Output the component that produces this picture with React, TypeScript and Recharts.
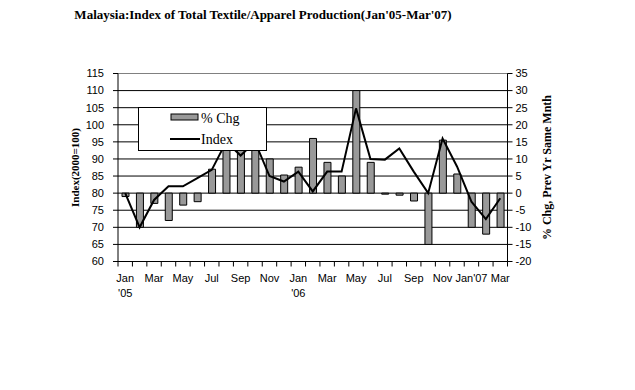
import {
  ComposedChart,
  Bar,
  Line,
  XAxis,
  YAxis,
  CartesianGrid,
  ReferenceLine,
  Legend,
} from "recharts";

const categories = [
  "Jan'05", "Feb'05", "Mar'05", "Apr'05", "May'05", "Jun'05", "Jul'05", "Aug'05", "Sep'05",
  "Oct'05", "Nov'05", "Dec'05", "Jan'06", "Feb'06", "Mar'06", "Apr'06", "May'06", "Jun'06",
  "Jul'06", "Aug'06", "Sep'06", "Oct'06", "Nov'06", "Dec'06", "Jan'07", "Feb'07", "Mar'07",
];

const tickLabels = [
  "Jan\n'05", "", "Mar", "", "May", "", "Jul", "", "Sep", "", "Nov", "",
  "Jan\n'06", "", "Mar", "", "May", "", "Jul", "", "Sep", "", "Nov", "",
  "Jan'07", "", "Mar",
];

const indexValues = [
  80, 70, 78, 82, 82, 84.4, 86.8, 95, 91, 95, 85, 83.4, 86.3, 80.5,
  86.3, 86.3, 104.8, 90, 89.8, 93.1, 86.3, 80, 96, 87.8, 77.5, 72.4, 78.5,
];

const pctChg = [
  -1, -10, -3, -8, -3.5, -2.5, 7, 14, 13, 15, 10, 5.3, 7.6, 16,
  9, 5, 30, 9, -0.3, -0.6, -2.3, -15, 15.5, 5.6, -10, -12, -10,
];

const leftTicks = [60, 65, 70, 75, 80, 85, 90, 95, 100, 105, 110, 115];
const rightTicks = [-20, -15, -10, -5, 0, 5, 10, 15, 20, 25, 30, 35];

const data = categories.map((c, i) => ({
  month: c,
  chg: pctChg[i],
  index: indexValues[i],
}));

const sans = "'Liberation Sans', Arial, sans-serif";
const serif = "'Liberation Serif', 'Times New Roman', serif";

function MonthTick(props: any) {
  const { x, y, payload, width } = props;
  const band = width / categories.length;
  const i = payload.index;
  const text: string = tickLabels[i] || "";
  const lines = text ? text.split("\n") : [];
  return (
    <g>
      <line x1={x - band / 2} x2={x - band / 2} y1={y} y2={y + 5} stroke="#000" />
      {i === categories.length - 1 && (
        <line x1={x + band / 2} x2={x + band / 2} y1={y} y2={y + 5} stroke="#000" />
      )}
      {lines.map((t, k) => (
        <text
          key={k}
          x={x}
          y={y + 20 + k * 15}
          textAnchor="middle"
          fontSize={11}
          fontFamily={sans}
          fill="#000"
        >
          {t}
        </text>
      ))}
    </g>
  );
}

function LegendBox() {
  return (
    <div
      style={{
        width: 129,
        height: 44,
        boxSizing: "border-box",
        border: "1px solid #000",
        background: "#fff",
      }}
    >
      <svg width={127} height={42} style={{ display: "block" }}>
        <rect x={32} y={6} width={27} height={6} fill="#999" stroke="#000" />
        <text x={62} y={15} fontSize={14} fontFamily={serif} fill="#000">
          % Chg
        </text>
        <line x1={31} x2={61} y1={31} y2={31} stroke="#000" strokeWidth={2} />
        <text x={62} y={36} fontSize={14} fontFamily={serif} fill="#000">
          Index
        </text>
      </svg>
    </div>
  );
}

export default function App() {
  return (
    <div style={{ position: "absolute", left: 0, top: 0, width: 635, height: 390, background: "#fff" }}>
      <div
        style={{
          position: "absolute",
          left: 0,
          top: 7,
          width: 526,
          textAlign: "center",
          fontFamily: serif,
          fontWeight: "bold",
          fontSize: 13,
          zIndex: 2,
        }}
      >
        Malaysia:Index of Total Textile/Apparel Production(Jan'05-Mar'07)
      </div>
      <ComposedChart
        width={635}
        height={390}
        data={data}
        margin={{ top: 73.5, right: 0, bottom: 88.5, left: 0 }}
        barSize={7}
      >
        <CartesianGrid yAxisId="left" vertical={false} stroke="#000" />
        <ReferenceLine yAxisId="left" y={115} stroke="#808080" />
        <XAxis
          dataKey="month"
          interval={0}
          height={40}
          tickSize={0}
          tickMargin={0}
          tickLine={false}
          tick={<MonthTick />}
          axisLine={{ stroke: "#000" }}
        />
        <YAxis
          yAxisId="left"
          orientation="left"
          width={118}
          domain={[60, 115]}
          ticks={leftTicks}
          interval={0}
          tickSize={5}
          tickMargin={9}
          axisLine={{ stroke: "#000" }}
          tickLine={{ stroke: "#000" }}
          tick={{ fill: "#000", fontSize: 11, fontFamily: sans }}
          label={(p: any) => {
            const vb = p.viewBox;
            const cx = vb.x + 79;
            const cy = vb.y + vb.height / 2;
            return (
              <text
                x={cx}
                y={cy}
                transform={`rotate(-90 ${cx} ${cy})`}
                textAnchor="middle"
                fontSize={11}
                fontWeight="bold"
                fontFamily={serif}
                fill="#000"
              >
                Index(2000=100)
              </text>
            );
          }}
        />
        <YAxis
          yAxisId="right"
          orientation="right"
          width={127.5}
          domain={[-20, 35]}
          ticks={rightTicks}
          interval={0}
          tickSize={5}
          tickMargin={3}
          axisLine={{ stroke: "#000" }}
          tickLine={{ stroke: "#000" }}
          tick={{ fill: "#000", fontSize: 11, fontFamily: sans }}
          label={(p: any) => {
            const vb = p.viewBox;
            const cx = vb.x + 43;
            const cy = vb.y + vb.height / 2;
            return (
              <text
                x={cx}
                y={cy}
                transform={`rotate(-90 ${cx} ${cy})`}
                textAnchor="middle"
                fontSize={12}
                fontWeight="bold"
                fontFamily={serif}
                fill="#000"
              >
                % Chg, Prev Yr Same Mnth
              </text>
            );
          }}
        />
        <Bar
          yAxisId="right"
          dataKey="chg"
          name="% Chg"
          fill="#999"
          stroke="#000"
          strokeWidth={1}
          isAnimationActive={false}
        />
        <Line
          yAxisId="left"
          dataKey="index"
          name="Index"
          type="linear"
          stroke="#000"
          strokeWidth={2}
          dot={false}
          activeDot={false}
          isAnimationActive={false}
        />
        <Legend
          layout="horizontal"
          verticalAlign="middle"
          align="center"
          content={<LegendBox />}
          wrapperStyle={{ left: 138, top: 107, width: 129, height: 44 }}
        />
      </ComposedChart>
    </div>
  );
}
